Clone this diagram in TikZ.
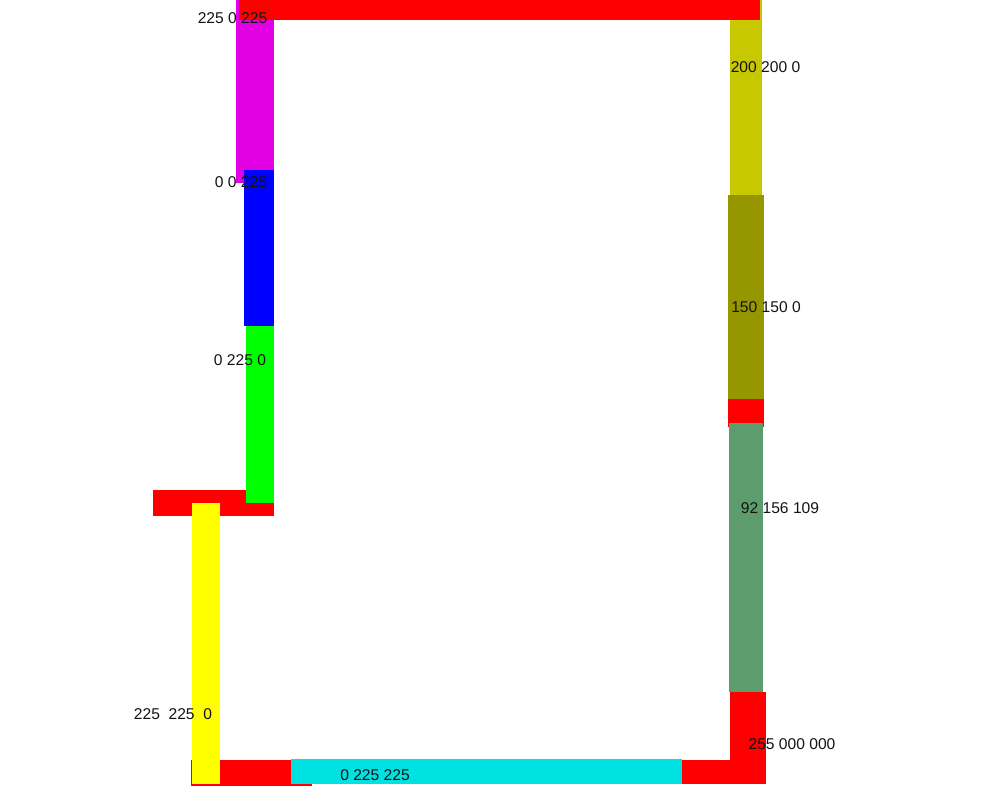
\documentclass[tikz,border=0pt]{standalone}
\usepackage{fontspec}
\setmainfont{Liberation Sans}
\usepackage{tikz}
\usetikzlibrary{positioning}
\usepackage{xcolor}
\definecolor{wallred}{RGB}{255,0,0}
\definecolor{wallmagenta}{RGB}{225,0,225}
\definecolor{wallblue}{RGB}{0,0,255}
\definecolor{wallgreen}{RGB}{0,255,0}
\definecolor{wallyellow}{RGB}{255,255,0}
\definecolor{wallcyan}{RGB}{0,225,225}
\definecolor{wallolivelight}{RGB}{200,200,0}
\definecolor{wallolive}{RGB}{150,150,0}
\definecolor{wallsea}{RGB}{92,156,109}
\definecolor{labeltext}{RGB}{20,20,20}

\begin{document}
\begin{tikzpicture}[
  x=0.025cm, y=-0.025cm,
  wallseg/.style={draw=none},
  walllabel/.style={
    inner sep=0pt,
    text=labeltext,
    font=\fontsize{11.1pt}{13pt}\selectfont
  }
]
  \useasboundingbox (0,0) rectangle (1000,800);

  % --- LEFT WALL: upper segments ---
  \fill[wallseg, wallmagenta] (236,0) rectangle (274,183);
  \fill[wallseg, wallblue] (244,170) rectangle (274,326);
  \fill[wallseg, wallred] (153,490) rectangle (274,516);
  \fill[wallseg, wallgreen] (246,326) rectangle (274,503);

  % --- LEFT WALL: lower segment and bottom ---
  \fill[wallseg, wallred] (191,760) rectangle (312,786);
  \fill[wallseg, wallyellow] (192,503) rectangle (220,784);
  \fill[wallseg, wallcyan] (291,759) rectangle (682,784);

  % --- RIGHT WALL ---
  \fill[wallseg, wallolivelight] (730,0) rectangle (762,195);
  \fill[wallseg, wallred] (728,399) rectangle (764,427);
  \fill[wallseg, wallolive] (728,195) rectangle (764,399);
  \fill[wallseg, wallsea] (729,423) rectangle (763,692);
  \fill[wallseg, wallred] (730,692) rectangle (766,784);
  \fill[wallseg, wallred] (682,760) rectangle (766,784);

  % --- TOP WALL ---
  \fill[wallseg, wallred] (239,0) rectangle (760,20);

  % Colour labels
  \node[walllabel] (lmagenta) at (232.5,18.5) {225 0 225};
  \node[walllabel] (lblue) at (241,182) {0 0 225};
  \node[walllabel] (lgreen) at (240,360) {0 225 0};
  \node[walllabel] (lyellow) at (173,714.5) {225\ \ 225\ \ 0};
  \node[walllabel] (lcyan) at (375,775) {0 225 225};
  \node[walllabel] (lolivelight) at (765.5,67.5) {200 200 0};
  \node[walllabel] (lolive) at (766,307) {150 150 0};
  \node[walllabel] (lsea) at (780,508.5) {92 156 109};
  \node[walllabel] (lred) at (792,744) {255 000 000};

\end{tikzpicture}
\end{document}
